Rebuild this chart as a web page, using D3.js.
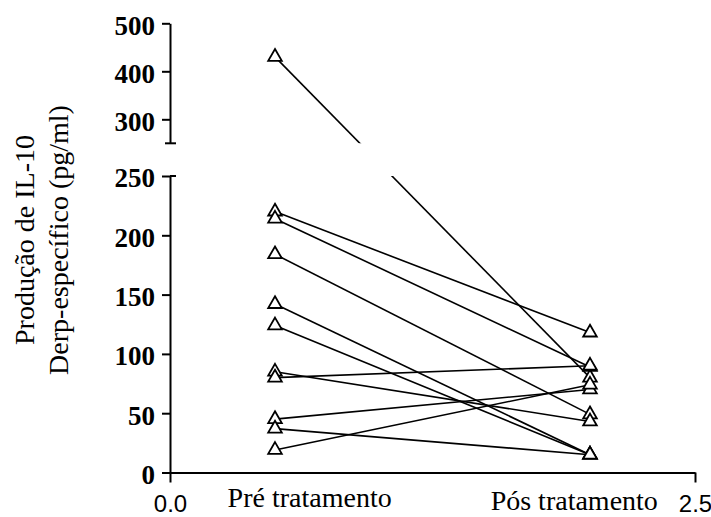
<!DOCTYPE html>
<html>
<head>
<meta charset="utf-8">
<script src="https://cdn.jsdelivr.net/npm/d3@7"></script>
<style>
    body { margin: 0; background: #fff; }
    .axis path, .axis line { stroke: #000; stroke-width: 2px; }
</style>
</head>
<body>
<div id="chart"></div>
<script>
// values
var groups = ["Pré tratamento", "Pós tratamento"];
var groupPos = [0.5, 2.0];
var preValues = [430, 220, 214, 184, 142, 124, 85, 80, 45, 37, 19];
var postValues = [80, 118, 89, 49, 15, 15, 43, 90, 70, 15, 74];
var lowTicks = [0, 50, 100, 150, 200, 250];
var highTicks = [300, 400, 500];
var xTicks = [0.0, 2.5];
var yTitle = ["Produção de IL-10", "Derp-específico (pg/ml)"];

var w = 711, h = 517;
var axisX = 170;
var labelPos = [0.665, 1.925];   // category labels sit off the points

var svg = d3.select("#chart").append("svg")
    .attr("width", w)
    .attr("height", h);

var x = d3.scaleLinear().domain([0, 2.5]).range([axisX, 695]);
var yLow = d3.scaleLinear().domain([0, 250]).range([472.5, 176]);
var yHigh = d3.scaleLinear().domain([250, 500]).range([143.3, 23.3]);

function yPos(v) {
    return v <= 250 ? yLow(v) : yHigh(v);
}

// clip areas for the two panels of the broken axis
var defs = svg.append("defs");
defs.append("clipPath").attr("id", "clipLow")
    .append("rect").attr("x", axisX).attr("y", yLow(250)).attr("width", w).attr("height", yLow(0) - yLow(250));
defs.append("clipPath").attr("id", "clipHigh")
    .append("rect").attr("x", axisX).attr("y", 0).attr("width", w).attr("height", yHigh(250));

// axes
svg.append("g")
    .attr("class", "axis yaxis")
    .attr("transform", "translate(" + axisX + ",0)")
    .call(d3.axisLeft(yLow).tickValues(lowTicks).tickSize(8).tickSizeOuter(0).tickPadding(7));

svg.append("g")
    .attr("class", "axis yaxis")
    .attr("transform", "translate(" + axisX + ",0)")
    .call(d3.axisLeft(yHigh).tickValues(highTicks).tickSize(8).tickSizeOuter(0).tickPadding(7));

svg.selectAll(".yaxis text")
    .attr("dy", "0.4em")
    .style("font-family", "'Liberation Serif', 'Times New Roman', serif")
    .style("font-weight", "bold")
    .style("font-size", "27px")
    .style("fill", "#000");

// break caps
svg.append("line")
    .attr("x1", axisX - 5).attr("x2", axisX + 6)
    .attr("y1", yHigh(250)).attr("y2", yHigh(250))
    .style("stroke", "#000").style("stroke-width", 2);
svg.append("line")
    .attr("x1", axisX).attr("x2", axisX + 6)
    .attr("y1", yLow(250)).attr("y2", yLow(250))
    .style("stroke", "#000").style("stroke-width", 2);

var xAxis = svg.append("g")
    .attr("class", "axis xaxis")
    .attr("transform", "translate(0," + yLow(0) + ")")
    .call(d3.axisBottom(x).tickValues(xTicks).tickFormat(d3.format(".1f")).tickSize(10).tickSizeOuter(0).tickPadding(12));

xAxis.selectAll("text")
    .style("font-family", "'Liberation Sans', Arial, sans-serif")
    .style("font-size", "24px")
    .style("fill", "#000");

// category labels
svg.selectAll(".group-label")
    .data(groups)
    .enter().append("text")
    .attr("class", "group-label")
    .attr("x", function (d, i) { return x(labelPos[i]); })
    .attr("y", function (d, i) { return i === 0 ? 507 : 510; })
    .attr("text-anchor", "middle")
    .style("font-family", "'Liberation Serif', 'Times New Roman', serif")
    .style("font-size", "28px")
    .text(function (d) { return d; });

// y title
svg.selectAll(".ytitle")
    .data(yTitle)
    .enter().append("text")
    .attr("class", "ytitle")
    .attr("transform", function (d, i) { return "translate(" + (34 + i * 34) + ",240) rotate(-90)"; })
    .attr("text-anchor", "middle")
    .style("font-family", "'Liberation Serif', 'Times New Roman', serif")
    .style("font-size", "28px")
    .text(function (d) { return d; });

// paired lines
var pairs = preValues.map(function (d, i) { return {pre: d, post: postValues[i]}; });

["clipLow", "clipHigh"].forEach(function (clip) {
    svg.append("g")
        .attr("clip-path", "url(#" + clip + ")")
        .selectAll("line")
        .data(pairs)
        .enter().append("line")
        .attr("x1", x(groupPos[0]))
        .attr("x2", x(groupPos[1]))
        .attr("y1", function (d) { return yPos(d.pre); })
        .attr("y2", function (d) { return yPos(d.post); })
        .style("stroke", "#000")
        .style("stroke-width", 1.6);
});

// triangle markers
var tri = d3.symbol().type(d3.symbolTriangle).size(80);
var points = [];
pairs.forEach(function (d) {
    points.push({g: 0, v: d.pre});
    points.push({g: 1, v: d.post});
});

svg.append("g")
    .selectAll("path")
    .data(points)
    .enter().append("path")
    .attr("d", tri)
    .attr("transform", function (d) { return "translate(" + x(groupPos[d.g]) + "," + yPos(d.v) + ")"; })
    .style("fill", "#fff")
    .style("stroke", "#000")
    .style("stroke-width", 1.8);
</script>
</body>
</html>
